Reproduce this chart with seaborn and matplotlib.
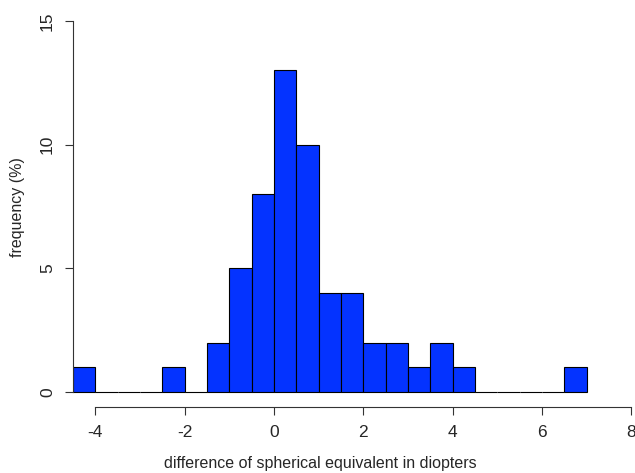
import numpy as np
import matplotlib
matplotlib.use("Agg")
import matplotlib.pyplot as plt
import seaborn as sns

# histogram bins (width 0.5 D) and counts per bin
bin_edges = [-4.5, -4.0, -3.5, -3.0, -2.5, -2.0, -1.5, -1.0, -0.5, 0.0, 0.5,
             1.0, 1.5, 2.0, 2.5, 3.0, 3.5, 4.0, 4.5, 5.0, 5.5, 6.0, 6.5, 7.0]
counts = [1, 0, 0, 0, 1, 0, 2, 5, 8, 13, 10, 4, 4, 2, 2, 1, 2, 1, 0, 0, 0, 0, 1]
x_ticks = [-4, -2, 0, 2, 4, 6, 8]
y_ticks = [0, 5, 10, 15]

sns.set_style("white")
plt.rcParams['font.family'] = ['Liberation Sans', 'DejaVu Sans']
plt.rcParams['axes.unicode_minus'] = False

centers = [(a + b) / 2 for a, b in zip(bin_edges[:-1], bin_edges[1:])]

fig = plt.figure(figsize=(6.35, 4.73), dpi=100)
ax = fig.add_axes([73 / 635, 66 / 473, 562 / 635, 401 / 473])

sns.histplot(x=centers, weights=counts, bins=bin_edges, ax=ax,
             color="#0433ff", alpha=1, edgecolor="black", linewidth=0.8)

ax.set_xlim(-4.5, 8.08)
ax.set_ylim(-0.6, 15.6)

ax.set_xticks(x_ticks)
ax.set_yticks(y_ticks)
ax.set_yticklabels([str(v) for v in y_ticks], rotation=90, va="center")
ax.tick_params(axis="both", direction="out", length=6, width=0.8,
               labelsize=12.5, color="#333333", bottom=True, left=True)
ax.tick_params(axis="x", pad=7)
ax.tick_params(axis="y", pad=7)

for s in ["top", "right"]:
    ax.spines[s].set_visible(False)
ax.spines["left"].set_bounds(0, 15)
ax.spines["bottom"].set_bounds(-4, 8)
for s in ["left", "bottom"]:
    ax.spines[s].set_color("#333333")
    ax.spines[s].set_linewidth(0.8)

ax.set_xlabel("difference of spherical equivalent in diopters", fontsize=11.5)
ax.set_ylabel("frequency (%)", fontsize=11.5)
# place labels like the R figure margins (pixel centres 320,463 and 18,207)
ax.xaxis.set_label_coords((320 - 73) / 562, (407 - 463) / 401)
ax.yaxis.set_label_coords((18 - 73) / 562, (407 - 207) / 401)
ax.xaxis.label.set_va("center")
ax.yaxis.label.set_va("center")

fig.savefig("out.png", dpi=100)
